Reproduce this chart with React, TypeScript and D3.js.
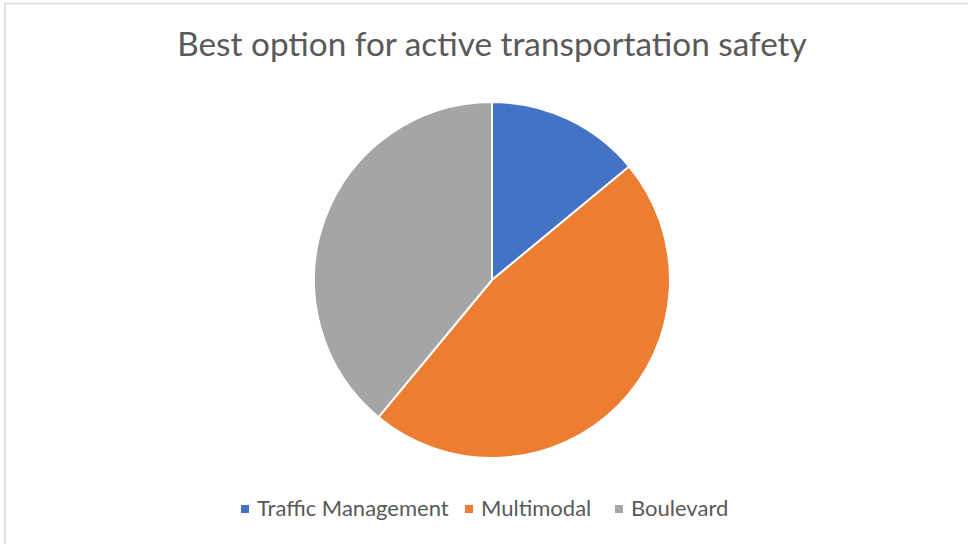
import React from "react";
import * as d3 from "d3";

const categories = ["Traffic Management", "Multimodal", "Boulevard"];
const values = [14, 47, 39];
const colors = ["#4472C4", "#ED7D31", "#A5A5A5"];
const title = "Best option for active transportation safety";

const W = 968;
const H = 544;

export default function App() {
  const cx = 492;
  const cy = 280;
  const r = 178;
  const pie = d3.pie<number>().sort(null).value((d) => d);
  const arcs = pie(values);
  const arcGen = d3.arc<d3.PieArcDatum<number>>().innerRadius(0).outerRadius(r);

  const legendX = [241, 465, 615];
  return (
    <svg
      width={W}
      height={H}
      style={{ position: "fixed", left: 0, top: 0, background: "#fff" }}
      fontFamily="Lato, 'Open Sans', sans-serif"
    >
      <rect x={5} y={3.5} width={W + 20} height={H + 20} fill="#fff" stroke="#d9d9d9" strokeWidth={1.5} />
      <text x={492} y={56} textAnchor="middle" fontSize={33.3} fill="#595959">
        {title}
      </text>
      <g transform={`translate(${cx},${cy})`}>
        {arcs.map((a, i) => (
          <path key={categories[i]} d={arcGen(a) || ""} fill={colors[i]} stroke="#fff" strokeWidth={2} />
        ))}
      </g>
      {categories.map((c, i) => (
        <g key={c}>
          <rect x={legendX[i]} y={505} width={8} height={8} fill={colors[i]} />
          <text x={legendX[i] + 16} y={516} fontSize={22} fill="#595959">
            {c}
          </text>
        </g>
      ))}
    </svg>
  );
}
